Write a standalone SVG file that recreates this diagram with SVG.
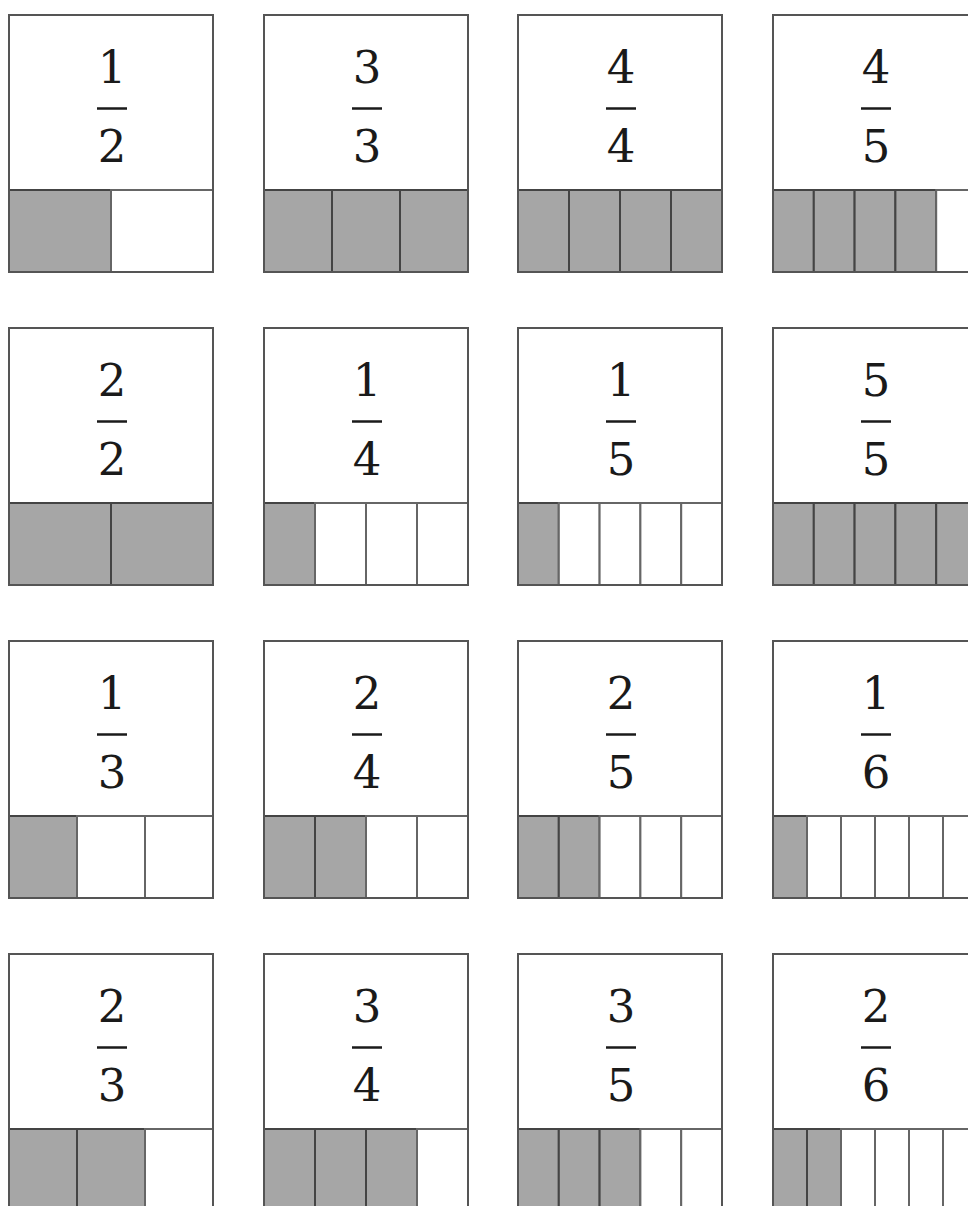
<svg xmlns="http://www.w3.org/2000/svg" width="968" height="1206" viewBox="0 0 968 1206">
<style>
.card{fill:#fff;stroke:#555;stroke-width:2}
.on{fill:#a6a6a6;stroke:#444;stroke-width:2}
.off{fill:#fff;stroke:#666;stroke-width:2}
.outline{fill:none;stroke:#555;stroke-width:2}
.num{font-family:"DejaVu Serif","Liberation Serif",serif;font-size:45px;fill:#1a1a1a;text-anchor:middle}
.bar{stroke:#1a1a1a;stroke-width:2.5}
</style>
<rect width="968" height="1206" fill="#fff"/>
<!-- Row 1 -->
<g id="card-1-2">
<rect class="card" x="9" y="15" width="204" height="257"/>
<text class="num" x="112" y="83">1</text><line class="bar" x1="97" y1="108.5" x2="127" y2="108.5"/><text class="num" x="112" y="162">2</text>
<rect class="on" x="9" y="190" width="102" height="82"/><rect class="off" x="111" y="190" width="102" height="82"/>
<rect class="outline" x="9" y="15" width="204" height="257"/>
</g>
<g id="card-3-3">
<rect class="card" x="264" y="15" width="204" height="257"/>
<text class="num" x="367" y="83">3</text><line class="bar" x1="352" y1="108.5" x2="382" y2="108.5"/><text class="num" x="367" y="162">3</text>
<rect class="on" x="264" y="190" width="68" height="82"/><rect class="on" x="332" y="190" width="68" height="82"/><rect class="on" x="400" y="190" width="68" height="82"/>
<rect class="outline" x="264" y="15" width="204" height="257"/>
</g>
<g id="card-4-4">
<rect class="card" x="518" y="15" width="204" height="257"/>
<text class="num" x="621" y="83">4</text><line class="bar" x1="606" y1="108.5" x2="636" y2="108.5"/><text class="num" x="621" y="162">4</text>
<rect class="on" x="518" y="190" width="51" height="82"/><rect class="on" x="569" y="190" width="51" height="82"/><rect class="on" x="620" y="190" width="51" height="82"/><rect class="on" x="671" y="190" width="51" height="82"/>
<rect class="outline" x="518" y="15" width="204" height="257"/>
</g>
<g id="card-4-5">
<rect class="card" x="773" y="15" width="204" height="257"/>
<text class="num" x="876" y="83">4</text><line class="bar" x1="861" y1="108.5" x2="891" y2="108.5"/><text class="num" x="876" y="162">5</text>
<rect class="on" x="773" y="190" width="40.8" height="82"/><rect class="on" x="813.8" y="190" width="40.8" height="82"/><rect class="on" x="854.6" y="190" width="40.8" height="82"/><rect class="on" x="895.4" y="190" width="40.8" height="82"/><rect class="off" x="936.2" y="190" width="40.8" height="82"/>
<rect class="outline" x="773" y="15" width="204" height="257"/>
</g>
<!-- Row 2 -->
<g id="card-2-2">
<rect class="card" x="9" y="328" width="204" height="257"/>
<text class="num" x="112" y="396">2</text><line class="bar" x1="97" y1="421.5" x2="127" y2="421.5"/><text class="num" x="112" y="475">2</text>
<rect class="on" x="9" y="503" width="102" height="82"/><rect class="on" x="111" y="503" width="102" height="82"/>
<rect class="outline" x="9" y="328" width="204" height="257"/>
</g>
<g id="card-1-4">
<rect class="card" x="264" y="328" width="204" height="257"/>
<text class="num" x="367" y="396">1</text><line class="bar" x1="352" y1="421.5" x2="382" y2="421.5"/><text class="num" x="367" y="475">4</text>
<rect class="on" x="264" y="503" width="51" height="82"/><rect class="off" x="315" y="503" width="51" height="82"/><rect class="off" x="366" y="503" width="51" height="82"/><rect class="off" x="417" y="503" width="51" height="82"/>
<rect class="outline" x="264" y="328" width="204" height="257"/>
</g>
<g id="card-1-5">
<rect class="card" x="518" y="328" width="204" height="257"/>
<text class="num" x="621" y="396">1</text><line class="bar" x1="606" y1="421.5" x2="636" y2="421.5"/><text class="num" x="621" y="475">5</text>
<rect class="on" x="518" y="503" width="40.8" height="82"/><rect class="off" x="558.8" y="503" width="40.8" height="82"/><rect class="off" x="599.6" y="503" width="40.8" height="82"/><rect class="off" x="640.4" y="503" width="40.8" height="82"/><rect class="off" x="681.2" y="503" width="40.8" height="82"/>
<rect class="outline" x="518" y="328" width="204" height="257"/>
</g>
<g id="card-5-5">
<rect class="card" x="773" y="328" width="204" height="257"/>
<text class="num" x="876" y="396">5</text><line class="bar" x1="861" y1="421.5" x2="891" y2="421.5"/><text class="num" x="876" y="475">5</text>
<rect class="on" x="773" y="503" width="40.8" height="82"/><rect class="on" x="813.8" y="503" width="40.8" height="82"/><rect class="on" x="854.6" y="503" width="40.8" height="82"/><rect class="on" x="895.4" y="503" width="40.8" height="82"/><rect class="on" x="936.2" y="503" width="40.8" height="82"/>
<rect class="outline" x="773" y="328" width="204" height="257"/>
</g>
<!-- Row 3 -->
<g id="card-1-3">
<rect class="card" x="9" y="641" width="204" height="257"/>
<text class="num" x="112" y="709">1</text><line class="bar" x1="97" y1="734.5" x2="127" y2="734.5"/><text class="num" x="112" y="788">3</text>
<rect class="on" x="9" y="816" width="68" height="82"/><rect class="off" x="77" y="816" width="68" height="82"/><rect class="off" x="145" y="816" width="68" height="82"/>
<rect class="outline" x="9" y="641" width="204" height="257"/>
</g>
<g id="card-2-4">
<rect class="card" x="264" y="641" width="204" height="257"/>
<text class="num" x="367" y="709">2</text><line class="bar" x1="352" y1="734.5" x2="382" y2="734.5"/><text class="num" x="367" y="788">4</text>
<rect class="on" x="264" y="816" width="51" height="82"/><rect class="on" x="315" y="816" width="51" height="82"/><rect class="off" x="366" y="816" width="51" height="82"/><rect class="off" x="417" y="816" width="51" height="82"/>
<rect class="outline" x="264" y="641" width="204" height="257"/>
</g>
<g id="card-2-5">
<rect class="card" x="518" y="641" width="204" height="257"/>
<text class="num" x="621" y="709">2</text><line class="bar" x1="606" y1="734.5" x2="636" y2="734.5"/><text class="num" x="621" y="788">5</text>
<rect class="on" x="518" y="816" width="40.8" height="82"/><rect class="on" x="558.8" y="816" width="40.8" height="82"/><rect class="off" x="599.6" y="816" width="40.8" height="82"/><rect class="off" x="640.4" y="816" width="40.8" height="82"/><rect class="off" x="681.2" y="816" width="40.8" height="82"/>
<rect class="outline" x="518" y="641" width="204" height="257"/>
</g>
<g id="card-1-6">
<rect class="card" x="773" y="641" width="204" height="257"/>
<text class="num" x="876" y="709">1</text><line class="bar" x1="861" y1="734.5" x2="891" y2="734.5"/><text class="num" x="876" y="788">6</text>
<rect class="on" x="773" y="816" width="34" height="82"/><rect class="off" x="807" y="816" width="34" height="82"/><rect class="off" x="841" y="816" width="34" height="82"/><rect class="off" x="875" y="816" width="34" height="82"/><rect class="off" x="909" y="816" width="34" height="82"/><rect class="off" x="943" y="816" width="34" height="82"/>
<rect class="outline" x="773" y="641" width="204" height="257"/>
</g>
<!-- Row 4 -->
<g id="card-2-3">
<rect class="card" x="9" y="954" width="204" height="257"/>
<text class="num" x="112" y="1022">2</text><line class="bar" x1="97" y1="1047.5" x2="127" y2="1047.5"/><text class="num" x="112" y="1101">3</text>
<rect class="on" x="9" y="1129" width="68" height="82"/><rect class="on" x="77" y="1129" width="68" height="82"/><rect class="off" x="145" y="1129" width="68" height="82"/>
<rect class="outline" x="9" y="954" width="204" height="257"/>
</g>
<g id="card-3-4">
<rect class="card" x="264" y="954" width="204" height="257"/>
<text class="num" x="367" y="1022">3</text><line class="bar" x1="352" y1="1047.5" x2="382" y2="1047.5"/><text class="num" x="367" y="1101">4</text>
<rect class="on" x="264" y="1129" width="51" height="82"/><rect class="on" x="315" y="1129" width="51" height="82"/><rect class="on" x="366" y="1129" width="51" height="82"/><rect class="off" x="417" y="1129" width="51" height="82"/>
<rect class="outline" x="264" y="954" width="204" height="257"/>
</g>
<g id="card-3-5">
<rect class="card" x="518" y="954" width="204" height="257"/>
<text class="num" x="621" y="1022">3</text><line class="bar" x1="606" y1="1047.5" x2="636" y2="1047.5"/><text class="num" x="621" y="1101">5</text>
<rect class="on" x="518" y="1129" width="40.8" height="82"/><rect class="on" x="558.8" y="1129" width="40.8" height="82"/><rect class="on" x="599.6" y="1129" width="40.8" height="82"/><rect class="off" x="640.4" y="1129" width="40.8" height="82"/><rect class="off" x="681.2" y="1129" width="40.8" height="82"/>
<rect class="outline" x="518" y="954" width="204" height="257"/>
</g>
<g id="card-2-6">
<rect class="card" x="773" y="954" width="204" height="257"/>
<text class="num" x="876" y="1022">2</text><line class="bar" x1="861" y1="1047.5" x2="891" y2="1047.5"/><text class="num" x="876" y="1101">6</text>
<rect class="on" x="773" y="1129" width="34" height="82"/><rect class="on" x="807" y="1129" width="34" height="82"/><rect class="off" x="841" y="1129" width="34" height="82"/><rect class="off" x="875" y="1129" width="34" height="82"/><rect class="off" x="909" y="1129" width="34" height="82"/><rect class="off" x="943" y="1129" width="34" height="82"/>
<rect class="outline" x="773" y="954" width="204" height="257"/>
</g>
</svg>
